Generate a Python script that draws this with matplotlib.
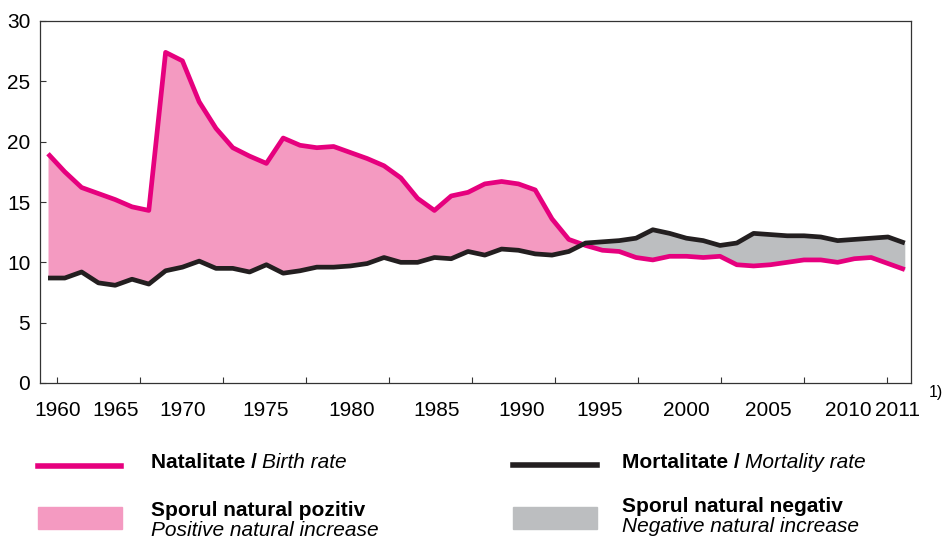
import matplotlib
matplotlib.use('Agg')
import matplotlib.pyplot as plt
from matplotlib.lines import Line2D
from matplotlib.patches import Rectangle
import numpy as np

years = np.arange(1960, 2012)
birth_rate = [19.0, 17.5, 16.2, 15.7, 15.2, 14.6, 14.3, 27.4, 26.7, 23.3,
              21.1, 19.5, 18.8, 18.2, 20.3, 19.7, 19.5, 19.6, 19.1, 18.6,
              18.0, 17.0, 15.3, 14.3, 15.5, 15.8, 16.5, 16.7, 16.5, 16.0,
              13.6, 11.9, 11.4, 11.0, 10.9, 10.4, 10.2, 10.5, 10.5, 10.4,
              10.5, 9.8, 9.7, 9.8, 10.0, 10.2, 10.2, 10.0, 10.3, 10.4,
              9.9, 9.4]
death_rate = [8.7, 8.7, 9.2, 8.3, 8.1, 8.6, 8.2, 9.3, 9.6, 10.1,
              9.5, 9.5, 9.2, 9.8, 9.1, 9.3, 9.6, 9.6, 9.7, 9.9,
              10.4, 10.0, 10.0, 10.4, 10.3, 10.9, 10.6, 11.1, 11.0, 10.7,
              10.6, 10.9, 11.6, 11.7, 11.8, 12.0, 12.7, 12.4, 12.0, 11.8,
              11.4, 11.6, 12.4, 12.3, 12.2, 12.2, 12.1, 11.8, 11.9, 12.0,
              12.1, 11.6]
year_labels = ['1960', '1965', '1970', '1975', '1980', '1985',
               '1990', '1995', '2000', '2005', '2010', '2011']

PINK = '#e6007e'
PINK_FILL = '#f49ac1'
GREY_FILL = '#bcbec0'
DARK = '#231f20'

W, H = 952, 540
plt.rcParams['font.family'] = ['Liberation Sans', 'DejaVu Sans']

fig = plt.figure(figsize=(W / 100, H / 100), dpi=100)
ax = fig.add_axes([40 / W, 1 - 383 / H, (911 - 40) / W, (383 - 21) / H])

b = np.array(birth_rate)
d = np.array(death_rate)
ax.fill_between(years, d, b, where=b >= d, interpolate=True, color=PINK_FILL, lw=0)
ax.fill_between(years, d, b, where=b <= d, interpolate=True, color=GREY_FILL, lw=0)
ax.plot(years, b, color=PINK, lw=3.4, solid_capstyle='butt')
ax.plot(years, d, color=DARK, lw=3.4, solid_capstyle='butt')

# pixel layout of the original: 1960 sits at px 48, one year ~16.8 px
step = 16.8
ax.set_xlim(1960 - 8 / step, 1960 + 863 / step)
ax.set_ylim(0, 30)
ax.set_yticks(range(0, 31, 5))
ticks = [1960 + (57 + 83.0 * k - 48) / step for k in range(11)]
ax.set_xticks(ticks)
ax.set_xticklabels([])
ax.tick_params(direction='in', length=4.5, width=0.8, color='#333333')
ax.tick_params(axis='y', labelsize=15, pad=7)
for s in ax.spines.values():
    s.set_linewidth(0.9)
    s.set_color('#333333')

# year labels (placed as in the source, not on the ticks)
label_px = [58, 116, 183, 266, 352, 437, 522, 600, 686, 768, 848, 898]
for lab, px in zip(year_labels, label_px):
    fig.text(px / W, 1 - 410 / H, lab, ha='center', va='center', fontsize=15)
fig.text(936 / W, 1 - 393 / H, '1)', ha='center', va='center', fontsize=11.5)

# legend drawn by hand
fig.add_artist(Line2D([38 / W, 121 / W], [1 - 466 / H] * 2, lw=4, color=PINK,
                      transform=fig.transFigure))
fig.add_artist(Line2D([513 / W, 597 / W], [1 - 465 / H] * 2, lw=4, color=DARK,
                      transform=fig.transFigure))
fig.add_artist(Rectangle((38 / W, 1 - 529 / H), 84 / W, 22 / H, color=PINK_FILL,
                         transform=fig.transFigure))
fig.add_artist(Rectangle((513 / W, 1 - 529 / H), 84 / W, 22 / H, color=GREY_FILL,
                         transform=fig.transFigure))

renderer = fig.canvas.get_renderer()
FS = 15


def two_part(x, y, bold, italic):
    t = fig.text(x / W, 1 - y / H, bold, fontweight='bold', fontsize=FS, va='center')
    bb = t.get_window_extent(renderer=renderer)
    fig.text((bb.x1 + 5) / W, 1 - y / H, italic, style='italic', fontsize=FS, va='center')


two_part(151, 463, 'Natalitate /', 'Birth rate')
two_part(622, 463, 'Mortalitate /', 'Mortality rate')
fig.text(151 / W, 1 - 511 / H, 'Sporul natural pozitiv', fontweight='bold', fontsize=FS, va='center')
fig.text(151 / W, 1 - 531 / H, 'Positive natural increase', style='italic', fontsize=FS, va='center')
fig.text(622 / W, 1 - 507 / H, 'Sporul natural negativ', fontweight='bold', fontsize=FS, va='center')
fig.text(622 / W, 1 - 527 / H, 'Negative natural increase', style='italic', fontsize=FS, va='center')

fig.savefig('out.png', dpi=100)
